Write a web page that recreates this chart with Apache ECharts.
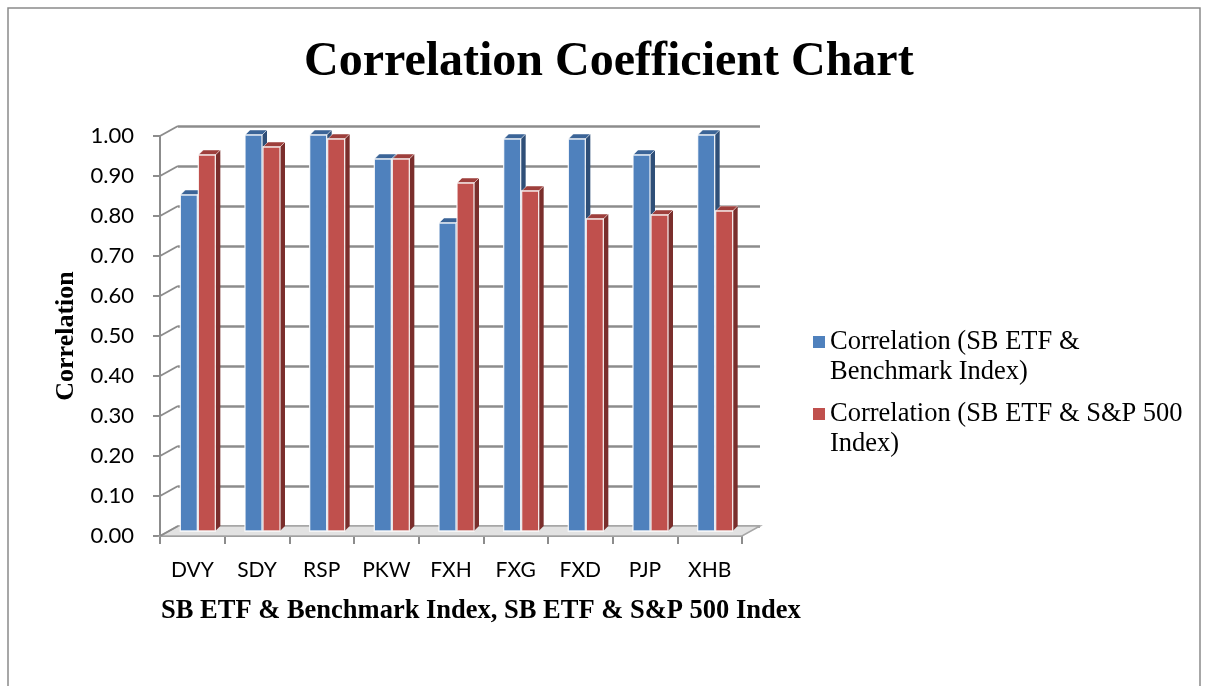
<!DOCTYPE html>
<html>
<head>
<meta charset="utf-8">
<script src="https://cdn.jsdelivr.net/npm/echarts@6/dist/echarts.min.js"></script>
<style>
  html, body { margin: 0; padding: 0; background: #fff; }
  #main { width: 1207px; height: 686px; }
</style>
</head>
<body>
<div id="main"></div>
<script>
// data
const categories = ['DVY', 'SDY', 'RSP', 'PKW', 'FXH', 'FXG', 'FXD', 'PJP', 'XHB']
const benchmarkCorr = [0.84, 0.99, 0.99, 0.93, 0.77, 0.98, 0.98, 0.94, 0.99]
const sp500Corr = [0.94, 0.96, 0.98, 0.93, 0.87, 0.85, 0.78, 0.79, 0.80]
const yTicks = [0, 0.1, 0.2, 0.3, 0.4, 0.5, 0.6, 0.7, 0.8, 0.9, 1.0]
const seriesNames = ['Correlation (SB ETF & Benchmark Index)', 'Correlation (SB ETF & S&P 500 Index)']
// leading blank line so the legend marker sits next to the first text line
const legendText = {
  'Correlation (SB ETF & Benchmark Index)': '\nCorrelation (SB ETF &\nBenchmark Index)',
  'Correlation (SB ETF & S&P 500 Index)': '\nCorrelation (SB ETF & S&P 500\nIndex)'
}

const chart = echarts.init(document.getElementById('main'))

const GRID_GRAY = '#8c8c8c'
const DEPTH_X = 18
const DEPTH_Y = 10

// one 3d-looking column
function boxSeries (name, values, colors, offset) {
  return {
    name: name,
    type: 'custom',
    xAxisIndex: 0,
    yAxisIndex: 0,
    z: 3,
    itemStyle: { color: colors.front },
    data: values.map(function (v, i) { return [i, v] }),
    renderItem: function (params, api) {
      const base = api.coord([api.value(0), 0])
      const top = api.coord([api.value(0), api.value(1)])
      const w = 17
      const d = 5
      const x = base[0] + offset
      return {
        type: 'group',
        children: [
          {
            type: 'polygon',
            shape: { points: [[x + w, top[1]], [x + w + d, top[1] - d], [x + w + d, base[1] - d], [x + w, base[1]]] },
            style: { fill: colors.side }
          },
          {
            type: 'polygon',
            shape: { points: [[x, top[1]], [x + d, top[1] - d], [x + w + d, top[1] - d], [x + w, top[1]]] },
            style: { fill: colors.top, stroke: 'rgba(255,255,255,0.6)', lineWidth: 0.8 }
          },
          {
            type: 'rect',
            shape: { x: x, y: top[1], width: w, height: base[1] - top[1] },
            style: { fill: colors.front, stroke: 'rgba(255,255,255,0.85)', lineWidth: 1.3 }
          }
        ]
      }
    }
  }
}

const legendTextStyle = { fontFamily: 'Liberation Serif', fontSize: 26.5, lineHeight: 30, color: '#000' }

const option = {
  backgroundColor: '#ffffff',
  animation: false,
  title: {
    text: 'Correlation Coefficient Chart',
    left: 299,
    top: 34,
    textStyle: {
      fontFamily: 'Liberation Serif',
      fontWeight: 'bold',
      fontSize: 48,
      color: '#000'
    }
  },
  legend: [
    {
      data: [seriesNames[0]],
      left: 813,
      top: 297,
      padding: 0,
      icon: 'rect',
      itemWidth: 12,
      itemHeight: 12,
      formatter: function (n) { return legendText[n] },
      textStyle: legendTextStyle
    },
    {
      data: [seriesNames[1]],
      left: 813,
      top: 369,
      padding: 0,
      icon: 'rect',
      itemWidth: 12,
      itemHeight: 12,
      formatter: function (n) { return legendText[n] },
      textStyle: legendTextStyle
    }
  ],
  graphic: [
    {
      type: 'rect',
      shape: { x: 8, y: 8, width: 1192, height: 720 },
      style: { fill: 'none', stroke: '#8a8a8a', lineWidth: 1.5 },
      silent: true
    },
    {
      type: 'text',
      left: 161,
      top: 598,
      style: {
        text: 'SB ETF & Benchmark Index, SB ETF & S&P 500 Index',
        fontFamily: 'Liberation Serif',
        fontWeight: 'bold',
        fontSize: 26.5,
        fill: '#000'
      }
    },
    {
      type: 'text',
      x: 66,
      y: 336,
      rotation: Math.PI / 2,
      style: {
        text: 'Correlation',
        fontFamily: 'Liberation Serif',
        fontWeight: 'bold',
        fontSize: 26,
        fill: '#000',
        align: 'center',
        verticalAlign: 'middle'
      }
    }
  ],
  grid: [
    // bars (mid depth)
    { left: 169, top: 131, width: 582, height: 400 },
    // front plane: axis labels and ticks
    { left: 160, top: 136, width: 582, height: 400 },
    // back wall: gridlines
    { left: 178, top: 126, width: 582, height: 400 }
  ],
  xAxis: [
    { gridIndex: 0, type: 'category', data: categories, show: false },
    {
      gridIndex: 1,
      type: 'category',
      data: categories,
      axisLine: { show: true, lineStyle: { color: GRID_GRAY, width: 2 } },
      axisTick: { show: true, length: 8, lineStyle: { color: GRID_GRAY, width: 2 } },
      axisLabel: { margin: 24, fontFamily: 'Lato', fontSize: 21, color: '#000' }
    },
    { gridIndex: 2, type: 'category', data: categories, show: false }
  ],
  yAxis: [
    { gridIndex: 0, type: 'value', min: 0, max: 1, interval: 0.1, show: false },
    {
      gridIndex: 1,
      type: 'value',
      min: 0,
      max: 1,
      interval: 0.1,
      splitLine: { show: false },
      axisLine: { show: true, lineStyle: { color: GRID_GRAY, width: 2 } },
      axisTick: { show: true, length: 7, lineStyle: { color: GRID_GRAY, width: 2 } },
      axisLabel: {
        margin: 26,
        fontFamily: 'Lato',
        fontSize: 22,
        color: '#000',
        formatter: function (v) { return v.toFixed(2) }
      }
    },
    {
      gridIndex: 2,
      type: 'value',
      min: 0,
      max: 1,
      interval: 0.1,
      axisLine: { show: false },
      axisTick: { show: false },
      axisLabel: { show: false },
      splitLine: { show: true, lineStyle: { color: GRID_GRAY, width: 2.5 } }
    }
  ],
  series: [
    // floor slab
    {
      type: 'custom',
      xAxisIndex: 1,
      yAxisIndex: 1,
      z: 1,
      silent: true,
      data: [[0, 0]],
      renderItem: function (params, api) {
        const cs = params.coordSys
        const y0 = api.coord([0, 0])[1]
        const x0 = cs.x
        const x1 = cs.x + cs.width
        return {
          type: 'polygon',
          shape: { points: [[x0, y0], [x1, y0], [x1 + DEPTH_X, y0 - DEPTH_Y], [x0 + DEPTH_X, y0 - DEPTH_Y]] },
          style: { fill: '#e2e2e2', stroke: '#a6a6a6', lineWidth: 1.5 }
        }
      }
    },
    // depth lines from the front axis to the back wall
    {
      type: 'custom',
      xAxisIndex: 1,
      yAxisIndex: 1,
      z: 1,
      silent: true,
      data: yTicks.map(function (t) { return [0, t] }),
      renderItem: function (params, api) {
        const cs = params.coordSys
        const y = api.coord([0, api.value(1)])[1]
        return {
          type: 'line',
          shape: { x1: cs.x, y1: y, x2: cs.x + DEPTH_X, y2: y - DEPTH_Y },
          style: { stroke: GRID_GRAY, lineWidth: 2 }
        }
      }
    },
    boxSeries(seriesNames[0], benchmarkCorr, { front: '#4f81bd', side: '#2f4f78', top: '#3b6497' }, -21),
    boxSeries(seriesNames[1], sp500Corr, { front: '#c0504d', side: '#7a2e2c', top: '#9e3f3c' }, -3)
  ]
}

option && chart.setOption(option)
</script>
</body>
</html>
